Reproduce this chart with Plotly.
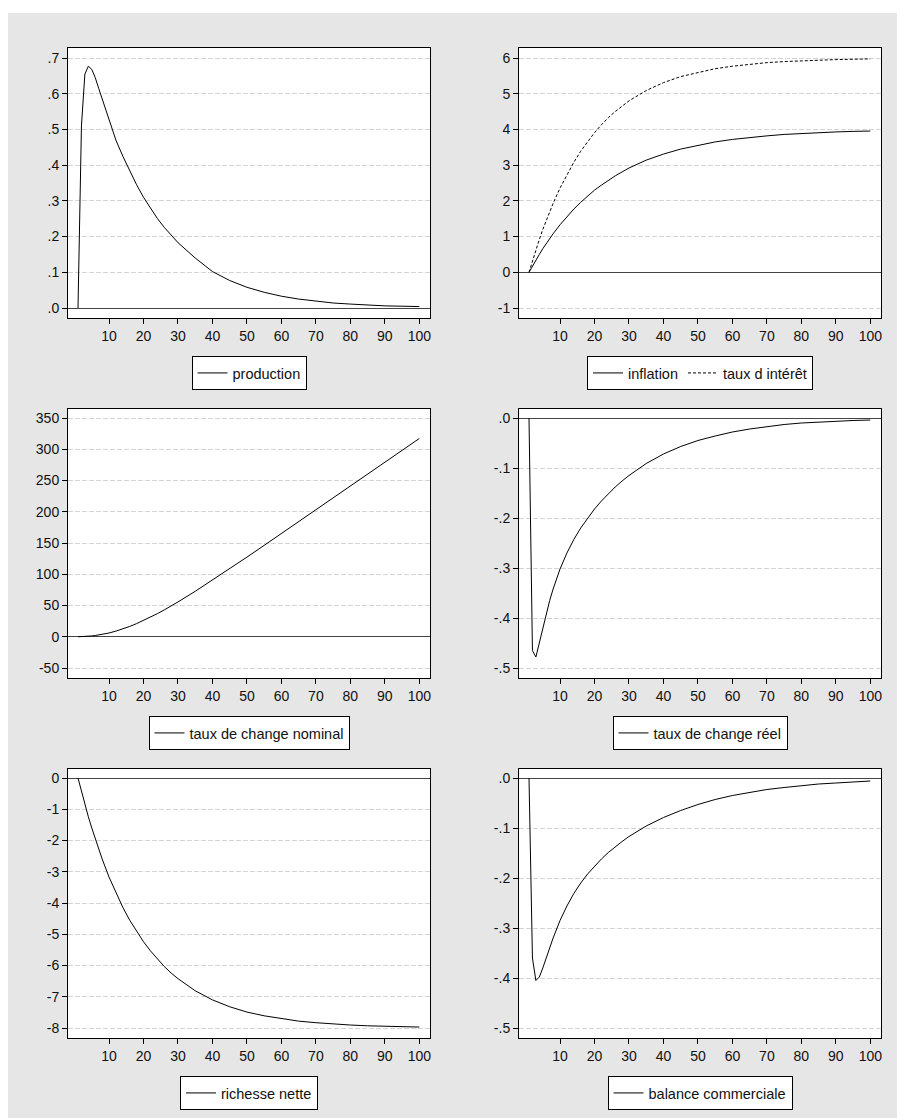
import plotly.graph_objects as go

W, H = 905, 1118

# ---- data ----
periods = [1, 2, 3, 4, 5, 6, 7, 8, 10, 12, 14, 16, 18, 20, 22, 24, 26, 28, 30,
           35, 40, 45, 50, 55, 60, 65, 70, 75, 80, 85, 90, 95, 100]

production = [0, 0.51, 0.655, 0.677, 0.668, 0.645, 0.615, 0.585, 0.525, 0.47, 0.425,
              0.383, 0.345, 0.31, 0.279, 0.251, 0.226, 0.203, 0.183, 0.14, 0.102,
              0.077, 0.058, 0.044, 0.033, 0.025, 0.019, 0.014, 0.011, 0.008, 0.006,
              0.005, 0.004]

inflation = [0, 0.18, 0.34, 0.5, 0.66, 0.81, 0.95, 1.08, 1.33, 1.56, 1.77, 1.96, 2.14,
             2.30, 2.44, 2.58, 2.70, 2.81, 2.92, 3.14, 3.31, 3.45, 3.56, 3.65, 3.72,
             3.78, 3.82, 3.86, 3.89, 3.91, 3.93, 3.945, 3.955]

taux_interet = [0, 0.32, 0.63, 0.92, 1.2, 1.45, 1.7, 1.93, 2.36, 2.74, 3.08, 3.39, 3.66,
                3.91, 4.13, 4.33, 4.50, 4.66, 4.80, 5.09, 5.31, 5.48, 5.60, 5.70, 5.77,
                5.83, 5.87, 5.90, 5.925, 5.94, 5.955, 5.965, 5.975]

change_nominal = [0, 0.1, 0.35, 0.75, 1.3, 2.0, 2.8, 3.7, 6.0, 9.0, 12.5, 16.5, 21.0,
                  25.9, 31.2, 36.9, 42.9, 49.2, 55.7, 72.7, 90.5, 108.8, 127.4, 146.2,
                  165.2, 184.2, 203.2, 222.2, 241.2, 260.2, 279.2, 298.2, 317.2]

change_reel = [0, -0.465, -0.478, -0.45, -0.418, -0.39, -0.365, -0.342, -0.302, -0.27,
               -0.243, -0.22, -0.2, -0.182, -0.166, -0.151, -0.138, -0.126, -0.115,
               -0.091, -0.072, -0.057, -0.045, -0.036, -0.028, -0.022, -0.017, -0.013,
               -0.010, -0.008, -0.006, -0.005, -0.004]

richesse_nette = [0, -0.44, -0.85, -1.24, -1.6, -1.95, -2.28, -2.59, -3.17, -3.68, -4.14,
                  -4.55, -4.91, -5.24, -5.53, -5.79, -6.03, -6.24, -6.42, -6.81, -7.1,
                  -7.32, -7.49, -7.61, -7.70, -7.78, -7.83, -7.875, -7.905, -7.93,
                  -7.945, -7.96, -7.97]

balance_commerciale = [0, -0.36, -0.405, -0.398, -0.38, -0.36, -0.34, -0.32, -0.285,
                       -0.256, -0.231, -0.21, -0.192, -0.176, -0.162, -0.149, -0.137,
                       -0.127, -0.117, -0.096, -0.079, -0.065, -0.053, -0.043, -0.035,
                       -0.029, -0.023, -0.019, -0.015, -0.012, -0.01, -0.008, -0.006]

x_ticks = [10, 20, 30, 40, 50, 60, 70, 80, 90, 100]

y1_ticks = [0, 0.1, 0.2, 0.3, 0.4, 0.5, 0.6, 0.7]
y1_text = [".0", ".1", ".2", ".3", ".4", ".5", ".6", ".7"]
y2_ticks = [-1, 0, 1, 2, 3, 4, 5, 6]
y2_text = ["-1", "0", "1", "2", "3", "4", "5", "6"]
y3_ticks = [-50, 0, 50, 100, 150, 200, 250, 300, 350]
y3_text = ["-50", "0", "50", "100", "150", "200", "250", "300", "350"]
y4_ticks = [-0.5, -0.4, -0.3, -0.2, -0.1, 0]
y4_text = ["-.5", "-.4", "-.3", "-.2", "-.1", ".0"]
y5_ticks = [-8, -7, -6, -5, -4, -3, -2, -1, 0]
y5_text = ["-8", "-7", "-6", "-5", "-4", "-3", "-2", "-1", "0"]
y6_ticks = [-0.5, -0.4, -0.3, -0.2, -0.1, 0]
y6_text = ["-.5", "-.4", "-.3", "-.2", "-.1", ".0"]

# ---- layout geometry (page pixels; the html body adds an 8px margin) ----
OFF = 8
cols = [(68 - OFF, 430 - OFF), (519 - OFF, 881 - OFF)]
rows = [(48 - OFF, 318 - OFF), (409 - OFF, 678 - OFF), (769 - OFF, 1038 - OFF)]
y_ranges = [(-0.028, 0.728), (-1.28, 6.28), (-66, 364.4),
            (-0.52, 0.018), (-8.32, 0.288), (-0.52, 0.018)]
ticks = [(y1_ticks, y1_text), (y2_ticks, y2_text), (y3_ticks, y3_text),
         (y4_ticks, y4_text), (y5_ticks, y5_text), (y6_ticks, y6_text)]

FONT = "Liberation Sans, Arial, sans-serif"

fig = go.Figure()

series = [
    (0, [("production", production, "solid")]),
    (1, [("inflation", inflation, "solid"), ("taux d intérêt", taux_interet, "3px,2px")]),
    (2, [("taux de change nominal", change_nominal, "solid")]),
    (3, [("taux de change réel", change_reel, "solid")]),
    (4, [("richesse nette", richesse_nette, "solid")]),
    (5, [("balance commerciale", balance_commerciale, "solid")]),
]

layout = dict(
    width=W, height=H,
    margin=dict(l=0, r=0, t=0, b=0),
    paper_bgcolor="#e6e6e6",
    plot_bgcolor="white",
    font=dict(family=FONT, size=14, color="#111"),
    showlegend=True,
)

for i, items in series:
    r, c = divmod(i, 2)
    n = "" if i == 0 else str(i + 1)
    xa, ya = "x" + n, "y" + n
    leg = "legend" if i == 0 else "legend" + str(i + 1)
    for name, vals, dash in items:
        fig.add_trace(go.Scatter(
            x=periods, y=vals, mode="lines", name=name,
            line=dict(color="black", width=1, dash=dash),
            xaxis=xa, yaxis=ya, legend=leg, showlegend=True,
        ))
    x0, x1 = cols[c]
    y0, y1 = rows[r]
    common = dict(showline=True, linecolor="black", linewidth=1, mirror=True,
                  ticks="outside", ticklen=5, tickcolor="black", tickwidth=1,
                  tickfont=dict(family=FONT, size=14, color="#111"))
    layout["xaxis" + n] = dict(
        domain=[x0 / W, x1 / W], anchor=ya, range=[-1.9, 103.1],
        tickmode="array", tickvals=x_ticks, showgrid=False, zeroline=False,
        **common)
    tv, tt = ticks[i]
    layout["yaxis" + n] = dict(
        domain=[1 - y1 / H, 1 - y0 / H], anchor=xa, range=list(y_ranges[i]),
        tickmode="array", tickvals=tv, ticktext=tt,
        showgrid=True, gridcolor="#d4d4d4", gridwidth=1, griddash="5px,2px",
        zeroline=True, zerolinecolor="#444", zerolinewidth=1,
        **common)
    layout[leg] = dict(
        x=(x0 + x1) / 2 / W, y=1 - (y1 + 38) / H, xanchor="center", yanchor="top",
        orientation="h", bgcolor="white", bordercolor="black", borderwidth=1,
        font=dict(family=FONT, size=14.5, color="#111"), itemwidth=30,
        tracegroupgap=0,
    )

layout["shapes"] = [
    dict(type="rect", xref="paper", yref="paper", x0=0, x1=1, y0=1 - 5 / H, y1=1,
         fillcolor="white", line=dict(width=0), layer="above"),
]

fig.update_layout(**layout)
fig.write_html("out.html")
